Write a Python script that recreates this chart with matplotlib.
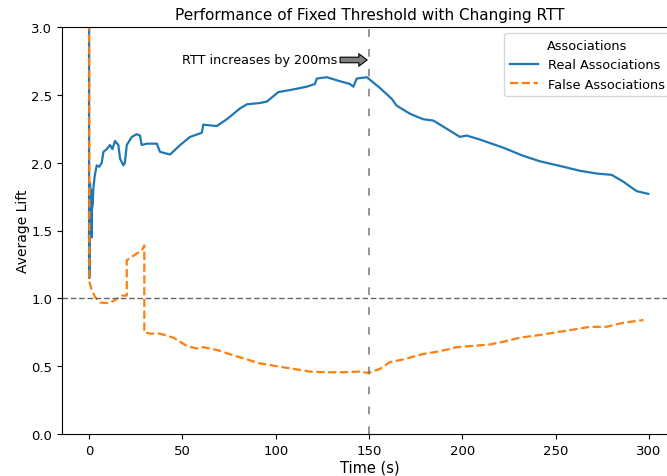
import matplotlib
matplotlib.use("Agg")
import matplotlib.pyplot as plt

# Real Associations (blue)
real_t = [0.0, 0.0, 0.3, 0.3, 0.6, 0.6, 0.9, 0.9, 1.2, 1.2, 1.5, 1.5, 2.0, 2.3, 3.0, 4.1, 5.5, 6.8, 7.7,
          9.5, 11.2, 12.5, 13.9, 15.7, 16.6, 18.4, 19.2, 20.2, 22.9, 25.5, 27.3, 28.2, 30.9, 36.3,
          38.0, 43.4, 48.8, 54.1, 60.4, 61.2, 68.4, 73.8, 80.9, 84.5, 91.6, 95.2, 101.4, 109.5,
          116.6, 121.0, 122.0, 127.3, 134.5, 139.8, 141.6, 143.4, 148.8, 155.9, 162.2, 164.8,
          172.0, 179.1, 184.5, 191.6, 198.7, 202.3, 209.5, 222.0, 232.7, 241.6, 254.1, 263.0,
          272.0, 280.0, 286.2, 293.4, 299.6]
real_v = [4.50, 1.15, 1.15, 1.85, 1.85, 1.50, 1.50, 1.80, 1.80, 1.45, 1.45, 1.65, 1.70, 1.81, 1.90, 1.98, 1.97, 2.00, 2.08,
          2.10, 2.13, 2.10, 2.16, 2.13, 2.03, 1.98, 2.00, 2.13, 2.19, 2.21, 2.20, 2.13, 2.14, 2.14,
          2.08, 2.06, 2.13, 2.19, 2.22, 2.28, 2.27, 2.32, 2.40, 2.43, 2.44, 2.45, 2.52, 2.54,
          2.56, 2.58, 2.62, 2.63, 2.60, 2.58, 2.56, 2.62, 2.63, 2.55, 2.47, 2.42,
          2.36, 2.32, 2.31, 2.25, 2.19, 2.20, 2.17, 2.11, 2.05, 2.01, 1.97, 1.94,
          1.92, 1.91, 1.86, 1.79, 1.77]

# False Associations (orange)
false_t = [0.0, 0.2, 1.4, 3.2, 5.9, 9.5, 13.0, 17.5, 20.2, 20.2, 25.5, 28.2, 29.6, 29.6, 32.7,
           38.0, 45.2, 52.3, 57.7, 61.2, 68.4, 77.3, 84.5, 91.6, 100.5, 109.5, 118.4, 127.3,
           136.2, 145.0, 149.6, 155.9, 161.2, 168.4, 179.1, 188.0, 197.0, 205.9, 214.8, 222.0,
           230.9, 241.6, 250.5, 259.5, 268.4, 277.3, 286.2, 297.0]
false_v = [4.50, 1.12, 1.06, 1.01, 0.97, 0.965, 0.98, 1.02, 1.02, 1.28, 1.33, 1.35, 1.39, 0.75, 0.74,
           0.74, 0.71, 0.65, 0.63, 0.64, 0.62, 0.58, 0.55, 0.52, 0.50, 0.48, 0.46, 0.455,
           0.455, 0.46, 0.45, 0.48, 0.53, 0.55, 0.59, 0.61, 0.64, 0.65, 0.66, 0.68,
           0.71, 0.73, 0.75, 0.77, 0.79, 0.79, 0.82, 0.84]

xticks = [0, 50, 100, 150, 200, 250, 300]
yticks = [0.0, 0.5, 1.0, 1.5, 2.0, 2.5, 3.0]
rtt_change_time = 150
baseline_lift = 1.0

fig = plt.figure(figsize=(6.67, 4.77), dpi=100)
ax = fig.add_axes([62 / 667, 42 / 477, 615 / 667, 407 / 477])

ax.plot(real_t, real_v, color="#1f77b4", lw=1.6, label="Real Associations")
ax.plot(false_t, false_v, color="#ff7f0e", lw=1.6, ls="--", label="False Associations")

ax.axhline(baseline_lift, color="#666666", lw=1.0, ls=(0, (4, 2)))
ax.axvline(rtt_change_time, color="#777777", lw=1.1, ls=(0, (5, 8)))

ax.annotate("RTT increases by 200ms", xy=(149, 2.757), xytext=(133, 2.757),
            ha="right", va="center", fontsize=9.2,
            arrowprops=dict(facecolor="#808080", edgecolor="black", lw=0.8,
                            width=4, headwidth=9, headlength=6))

ax.set_xlim(-14.5, 315)
ax.set_ylim(0, 3.0)
ax.set_xticks(xticks)
ax.set_yticks(yticks)
ax.tick_params(labelsize=9.5)
ax.set_xlabel("Time (s)", fontsize=10.5, labelpad=2)
ax.set_ylabel("Average Lift", fontsize=10, labelpad=1)
ax.set_title("Performance of Fixed Threshold with Changing RTT", fontsize=11)

ax.legend(title="Associations", loc="upper right", fontsize=9.3, title_fontsize=9.3,
          handlelength=2.2)

fig.savefig("out.png", dpi=100)
